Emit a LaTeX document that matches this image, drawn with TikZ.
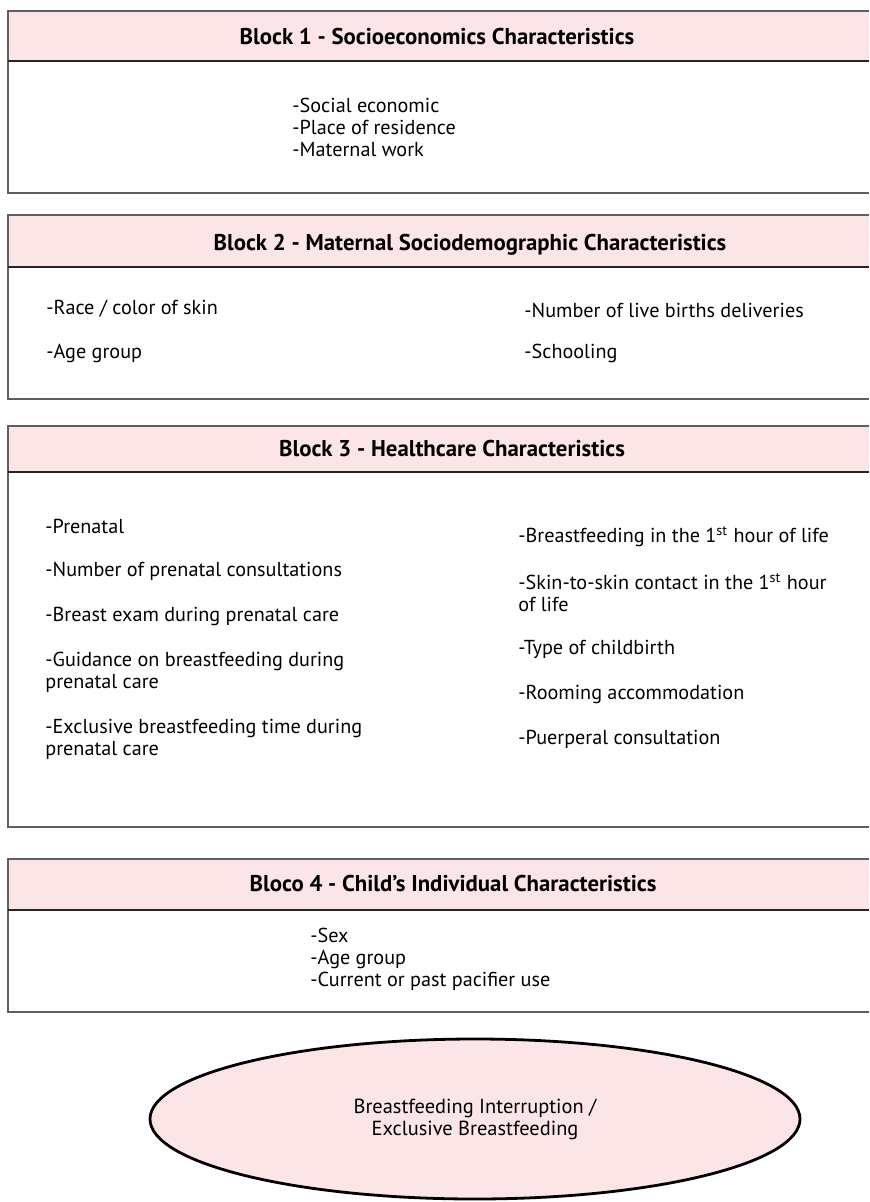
\documentclass[tikz,border=0pt]{standalone}
\usepackage{fontspec}
\setmainfont{PT Sans}
\usetikzlibrary{shapes.geometric,positioning}
\definecolor{headpink}{RGB}{252,229,231}
\definecolor{linegray}{RGB}{95,95,95}

\begin{document}
\begin{tikzpicture}[
	%	style def
    x=0.5pt, y=-0.5pt,
    box line/.style={line width=1.3pt, color=linegray},
    head line/.style={line width=1.1pt, color=black!85},
    head text/.style={font=\fontsize{11.4}{13}\selectfont\bfseries},
    item text/.style={anchor=west, align=left, inner sep=0pt, font=\fontsize{10.1}{11}\selectfont},
    every node/.style={color=black}
    ]
    \useasboundingbox (0,0) rectangle (869,1202);

	% block 1 - socioeconomics
	\fill[headpink] (8,11) rectangle (869,61);
	\draw[box line] (869,11) coordinate (t1) -- (8,11) coordinate (tl1) -- (8,193) coordinate (bl1) -- (869,193) coordinate (b1);
	\draw[head line] (8,61) coordinate (h1) -- (869,61);
	\node[head text] (block1) at (437,37) {Block 1 - Socioeconomics Characteristics};
	\node[item text] (socio) at (292,127) {-Social economic\\-Place of residence\\-Maternal work};

	% block 2 - maternal
	\fill[headpink] (8,215) rectangle (869,267);
	\draw[box line] (869,215) coordinate (t2) -- (8,215) coordinate (tl2) -- (8,399) coordinate (bl2) -- (869,399) coordinate (b2);
	\draw[head line] (8,267) coordinate (h2) -- (869,267);
	\node[head text] (block2) at (470,245) {Block 2 - Maternal Sociodemographic Characteristics};
	\node[item text] (race) at (46,309) {-Race / color of skin};
	\node[item text] (mage) at (46,353) {-Age group};
	\node[item text] (births) at (524,310) {-Number of live births deliveries};
	\node[item text] (school) at (524,353) {-Schooling};

	% block 3 - healthcare
	\fill[headpink] (8,426) rectangle (869,472);
	\draw[box line] (869,426) coordinate (t3) -- (8,426) coordinate (tl3) -- (8,827) coordinate (bl3) -- (869,827) coordinate (b3);
	\draw[head line] (8,472) coordinate (h3) -- (869,472);
	\node[head text] (block3) at (452,449) {Block 3 - Healthcare Characteristics};
	\node[item text] (pren) at (45,526) {-Prenatal};
	\node[item text] (consult) at (45,571) {-Number of prenatal consultations};
	\node[item text] (exam) at (45,616) {-Breast exam during prenatal care};
	\node[item text] (guide) at (45,672) {-Guidance on breastfeeding during\\prenatal care};
	\node[item text] (excl) at (45,739) {-Exclusive breastfeeding time during\\prenatal care};
	\node[item text] (firsthour) at (518,537) {-Breastfeeding in the 1\textsuperscript{st} hour of life};
	\node[item text] (skin) at (518,593) {-Skin-to-skin contact in the 1\textsuperscript{st} hour\\of life};
	\node[item text] (birth) at (518,649) {-Type of childbirth};
	\node[item text] (room) at (518,694) {-Rooming accommodation};
	\node[item text] (puerp) at (518,739) {-Puerperal consultation};

	% block 4 - child
	\fill[headpink] (8,859) rectangle (869,910);
	\draw[box line] (869,859) coordinate (t4) -- (8,859) coordinate (tl4) -- (8,1012) coordinate (bl4) -- (869,1012) coordinate (b4);
	\draw[head line] (8,910) coordinate (h4) -- (869,910);
	\node[head text] (block4) at (453,884) {Bloco 4 - Child’s Individual Characteristics};
	\node[item text] (child) at (310,959) {-Sex\\-Age group\\-Current or past pacifier use};

	% outcome ellipse
	\node[ellipse, draw, line width=1.4pt, fill=headpink, minimum width=325pt, minimum height=80pt,
	      align=center, font=\fontsize{10.2}{11}\selectfont] (outcome) at (475,1119)
	      {Breastfeeding Interruption /\\Exclusive Breastfeeding};
\end{tikzpicture}
\end{document}
